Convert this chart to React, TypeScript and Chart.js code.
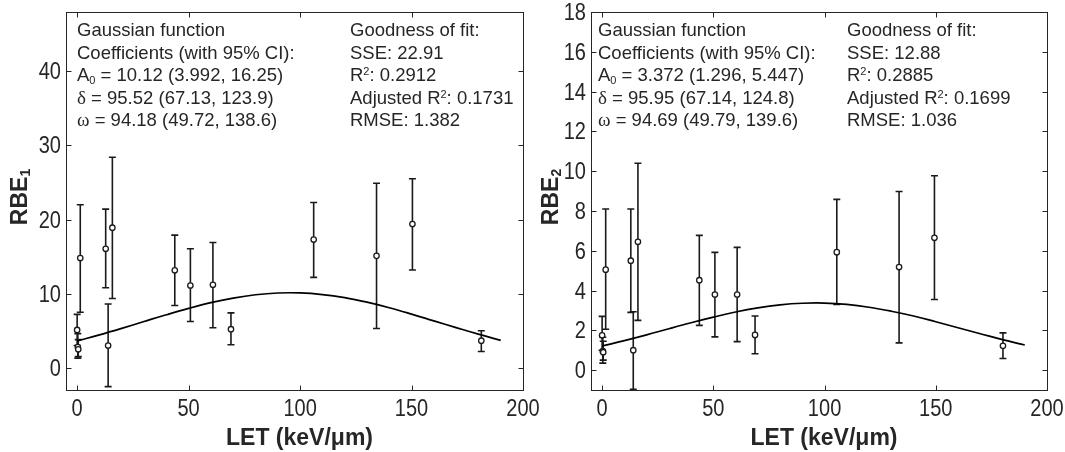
import React, { useEffect, useRef } from "react";
import { Chart, registerables } from "chart.js";

Chart.register(...registerables);

// ---------------- data ----------------
const xTicks = [0, 50, 100, 150, 200];
const y1Ticks = [0, 10, 20, 30, 40];
const y2Ticks = [0, 2, 4, 6, 8, 10, 12, 14, 16, 18];

// Panel 1 (RBE1)
const let1 = [0, 0.3, 0.5, 1.4, 12.8, 13.9, 15.8, 43.8, 50.8, 60.9, 69.0, 106.1, 134.3, 150.4, 181.3];
const rbe1 = [5.1, 2.8, 2.5, 14.8, 16.05, 3.0, 18.9, 13.15, 11.1, 11.2, 5.2, 17.3, 15.1, 19.4, 3.65];
const rbe1Lo = [3.0, 1.3, 1.5, 7.5, 10.8, -2.55, 9.35, 8.4, 6.25, 5.4, 3.1, 12.2, 5.3, 13.2, 2.2];
const rbe1Hi = [7.2, 4.6, 3.8, 22.0, 21.4, 8.6, 28.4, 17.9, 16.05, 16.9, 7.4, 22.3, 24.9, 25.5, 5.0];

// Panel 2 (RBE2)
const let2 = [0, 0.3, 0.5, 1.6, 12.9, 14.0, 16.1, 43.7, 50.7, 60.7, 68.75, 105.5, 133.5, 149.4, 180.2];
const rbe2 = [1.75, 0.95, 0.9, 5.05, 5.5, 1.0, 6.45, 4.52, 3.8, 3.8, 1.77, 5.93, 5.18, 6.65, 1.22];
const rbe2Lo = [1.0, 0.35, 0.5, 2.05, 2.9, -0.97, 2.5, 2.25, 1.67, 1.43, 0.82, 3.3, 1.37, 3.55, 0.58];
const rbe2Hi = [2.7, 1.65, 1.45, 8.1, 8.1, 2.93, 10.4, 6.77, 5.92, 6.17, 2.72, 8.58, 8.98, 9.77, 1.87];

// Fitted curves
const curveX = [0, 10, 20, 30, 40, 50, 60, 70, 80, 90, 100, 110, 120, 130, 140, 150, 160, 170, 180, 190];
const curve1 = [3.62, 4.44, 5.32, 6.24, 7.15, 8.01, 8.78, 9.4, 9.85, 10.09, 10.1, 9.88, 9.46, 8.85, 8.1, 7.24, 6.33, 5.42, 4.53, 3.7];
const curve2 = [1.21, 1.48, 1.77, 2.08, 2.38, 2.66, 2.92, 3.13, 3.28, 3.36, 3.37, 3.3, 3.16, 2.96, 2.72, 2.43, 2.13, 1.83, 1.53, 1.26];

// Annotation texts
const fit1Coef = ["10.12 (3.992, 16.25)", "95.52 (67.13, 123.9)", "94.18 (49.72, 138.6)"];
const fit1Good = ["22.91", "0.2912", "0.1731", "1.382"];
const fit2Coef = ["3.372 (1.296, 5.447)", "95.95 (67.14, 124.8)", "94.69 (49.79, 139.6)"];
const fit2Good = ["12.88", "0.2885", "0.1699", "1.036"];

const xTitle = "LET (keV/μm)";

// ---------------- drawing helpers ----------------
const INK = "#262626";
const SANS = "'Liberation Sans', Arial, Helvetica, sans-serif";
const SERIF = "'Liberation Serif', 'Times New Roman', serif";

type Seg = { t: string; f?: string; dy?: number };

function rich(ctx: CanvasRenderingContext2D, x: number, y: number, segs: Seg[], base: string) {
  let cx = x;
  for (const s of segs) {
    ctx.font = s.f || base;
    ctx.fillText(s.t, cx, y + (s.dy || 0));
    cx += ctx.measureText(s.t).width;
  }
}

function richWidth(ctx: CanvasRenderingContext2D, segs: Seg[], base: string) {
  let w = 0;
  for (const s of segs) {
    ctx.font = s.f || base;
    w += ctx.measureText(s.t).width;
  }
  return w;
}

// draws text horizontally condensed (tick labels are narrow in the original)
function condensed(ctx: CanvasRenderingContext2D, text: string, x: number, y: number, align: "center" | "right") {
  const sx = 0.87;
  const w = ctx.measureText(text).width * sx;
  const x0 = align === "center" ? x - w / 2 : x - w;
  ctx.save();
  ctx.translate(x0, y);
  ctx.scale(sx, 1);
  ctx.textAlign = "left";
  ctx.fillText(text, 0, 0);
  ctx.restore();
}

type PanelCfg = {
  xs: number[];
  ys: number[];
  lo: number[];
  hi: number[];
  curve: number[];
  yTicks: number[];
  yMin: number;
  yMax: number;
  sub: string;
  coef: string[];
  good: string[];
  col1X: number;
  col2X: number;
  yAxisWidth: number;
  rightPad: number;
  yTitleX: number;
  width: number;
  left: number;
};

function makePlugin(cfg: PanelCfg) {
  return {
    id: "decor",
    beforeDatasetsDraw(chart: any) {
      const ctx: CanvasRenderingContext2D = chart.ctx;
      const xs = chart.scales.x;
      const ys = chart.scales.y;
      ctx.save();
      ctx.strokeStyle = "#1a1a1a";
      ctx.lineWidth = 1.6;
      for (let i = 0; i < cfg.xs.length; i++) {
        const px = xs.getPixelForValue(cfg.xs[i]);
        const pl = ys.getPixelForValue(cfg.lo[i]);
        const ph = ys.getPixelForValue(cfg.hi[i]);
        ctx.beginPath();
        ctx.moveTo(px, pl);
        ctx.lineTo(px, ph);
        ctx.moveTo(px - 3.5, pl);
        ctx.lineTo(px + 3.5, pl);
        ctx.moveTo(px - 3.5, ph);
        ctx.lineTo(px + 3.5, ph);
        ctx.stroke();
      }
      ctx.restore();
    },
    afterDraw(chart: any) {
      const ctx: CanvasRenderingContext2D = chart.ctx;
      const a = chart.chartArea;
      const xs = chart.scales.x;
      const ys = chart.scales.y;
      ctx.save();
      // box
      ctx.strokeStyle = INK;
      ctx.lineWidth = 1;
      const L = Math.round(a.left) + 0.5;
      const R = Math.round(a.right) + 0.5;
      const T = Math.round(a.top) + 0.5;
      const B = Math.round(a.bottom) + 0.5;
      ctx.strokeRect(L, T, R - L, B - T);
      // inward ticks
      ctx.beginPath();
      const tl = 5;
      for (const v of xTicks) {
        const p = Math.round(xs.getPixelForValue(v)) + 0.5;
        ctx.moveTo(p, B);
        ctx.lineTo(p, B - tl);
        ctx.moveTo(p, T);
        ctx.lineTo(p, T + tl);
      }
      for (const v of cfg.yTicks) {
        const p = Math.round(ys.getPixelForValue(v)) + 0.5;
        ctx.moveTo(L, p);
        ctx.lineTo(L + tl, p);
        ctx.moveTo(R, p);
        ctx.lineTo(R - tl, p);
      }
      ctx.stroke();

      // tick labels
      ctx.fillStyle = INK;
      ctx.textBaseline = "alphabetic";
      ctx.font = `23px ${SANS}`;
      for (const v of xTicks) {
        condensed(ctx, String(v), xs.getPixelForValue(v), 416, "center");
      }
      for (const v of cfg.yTicks) {
        condensed(ctx, String(v), a.left - 5, ys.getPixelForValue(v) + 8, "right");
      }

      // axis titles
      const bold = `bold 23px ${SANS}`;
      ctx.textAlign = "left";
      ctx.font = bold;
      const xw = ctx.measureText(xTitle).width;
      ctx.fillText(xTitle, (a.left + a.right) / 2 + 5 - xw / 2, 445);

      const ySegs: Seg[] = [
        { t: "RBE" },
        { t: cfg.sub, f: `bold 14px ${SANS}`, dy: 3 },
      ];
      const yw = richWidth(ctx, ySegs, bold);
      ctx.save();
      ctx.translate(cfg.yTitleX, 197);
      ctx.rotate(-Math.PI / 2);
      rich(ctx, -yw / 2, 0, ySegs, bold);
      ctx.restore();

      // annotations
      const base = `18.5px ${SANS}`;
      const small = `11px ${SANS}`;
      const greek = `19px ${SERIF}`;
      const y0 = 36;
      const dy = 22.6;
      const c1 = cfg.col1X;
      const c2 = cfg.col2X;
      rich(ctx, c1, y0, [{ t: "Gaussian function" }], base);
      rich(ctx, c1, y0 + dy, [{ t: "Coefficients (with 95% CI):" }], base);
      rich(ctx, c1, y0 + 2 * dy, [{ t: "A" }, { t: "0", f: small, dy: 3 }, { t: " = " + cfg.coef[0] }], base);
      rich(ctx, c1, y0 + 3 * dy, [{ t: "δ", f: greek }, { t: " = " + cfg.coef[1] }], base);
      rich(ctx, c1, y0 + 4 * dy, [{ t: "ω", f: greek }, { t: " = " + cfg.coef[2] }], base);

      rich(ctx, c2, y0, [{ t: "Goodness of fit:" }], base);
      rich(ctx, c2, y0 + dy, [{ t: "SSE: " + cfg.good[0] }], base);
      rich(ctx, c2, y0 + 2 * dy, [{ t: "R" }, { t: "2", f: small, dy: -6 }, { t: ": " + cfg.good[1] }], base);
      rich(ctx, c2, y0 + 3 * dy, [{ t: "Adjusted R" }, { t: "2", f: small, dy: -6 }, { t: ": " + cfg.good[2] }], base);
      rich(ctx, c2, y0 + 4 * dy, [{ t: "RMSE: " + cfg.good[3] }], base);
      ctx.restore();
    },
  };
}

function Panel({ cfg }: { cfg: PanelCfg }) {
  const ref = useRef<HTMLCanvasElement | null>(null);
  useEffect(() => {
    if (!ref.current) return;
    const chart = new Chart(ref.current, {
      type: "scatter",
      data: {
        datasets: [
          {
            type: "scatter",
            data: cfg.xs.map((x, i) => ({ x, y: cfg.ys[i] })),
            pointRadius: 2.7,
            pointBorderWidth: 1.3,
            pointBackgroundColor: "#ffffff",
            pointBorderColor: "#1a1a1a",
            order: 0,
          } as any,
          {
            type: "line",
            data: curveX.map((x, i) => ({ x, y: cfg.curve[i] })),
            borderColor: "#000000",
            borderWidth: 1.7,
            pointRadius: 0,
            fill: false,
            tension: 0.4,
            order: 1,
          } as any,
        ],
      },
      options: {
        animation: false,
        responsive: false,
        layout: { padding: { top: 12, right: cfg.rightPad, left: 0, bottom: 0 } },
        plugins: { legend: { display: false }, tooltip: { enabled: false } },
        scales: {
          x: {
            type: "linear",
            min: -5,
            max: 200,
            grid: { display: false, drawTicks: false },
            border: { display: false },
            afterBuildTicks: (s: any) => {
              s.ticks = xTicks.map((v) => ({ value: v }));
            },
            afterFit: (s: any) => {
              s.height = 62;
            },
            ticks: { display: false },
          },
          y: {
            type: "linear",
            min: cfg.yMin,
            max: cfg.yMax,
            grid: { display: false, drawTicks: false },
            border: { display: false },
            afterBuildTicks: (s: any) => {
              s.ticks = cfg.yTicks.map((v) => ({ value: v }));
            },
            afterFit: (s: any) => {
              s.width = cfg.yAxisWidth;
            },
            ticks: { display: false },
          },
        },
      } as any,
      plugins: [makePlugin(cfg) as any],
    });
    return () => chart.destroy();
  }, [cfg]);
  return (
    <canvas
      ref={ref}
      width={cfg.width}
      height={452}
      style={{ position: "absolute", left: cfg.left, top: 0, width: cfg.width, height: 452 }}
    />
  );
}

const panel1: PanelCfg = {
  xs: let1,
  ys: rbe1,
  lo: rbe1Lo,
  hi: rbe1Hi,
  curve: curve1,
  yTicks: y1Ticks,
  yMin: -3,
  yMax: 48,
  sub: "1",
  coef: fit1Coef,
  good: fit1Good,
  col1X: 77,
  col2X: 350,
  yAxisWidth: 66,
  rightPad: 17,
  yTitleX: 27,
  width: 540,
  left: 0,
};

const panel2: PanelCfg = {
  xs: let2,
  ys: rbe2,
  lo: rbe2Lo,
  hi: rbe2Hi,
  curve: curve2,
  yTicks: y2Ticks,
  yMin: -1,
  yMax: 18,
  sub: "2",
  coef: fit2Coef,
  good: fit2Good,
  col1X: 68,
  col2X: 317,
  yAxisWidth: 61,
  rightPad: 18,
  yTitleX: 28,
  width: 535,
  left: 530,
};

export default function App() {
  return (
    <div style={{ position: "absolute", left: 0, top: 0, width: 1065, height: 452, background: "#ffffff", overflow: "hidden" }}>
      <Panel cfg={panel1} />
      <Panel cfg={panel2} />
    </div>
  );
}
